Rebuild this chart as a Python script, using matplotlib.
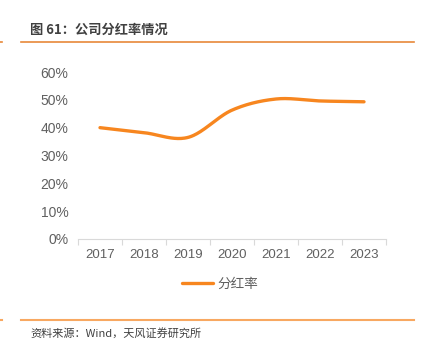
import numpy as np
import matplotlib
matplotlib.use("Agg")
import matplotlib.pyplot as plt
from matplotlib.lines import Line2D

plt.rcParams['font.family'] = ['Liberation Sans', 'Noto Sans CJK SC', 'DejaVu Sans']

years = ["2017", "2018", "2019", "2020", "2021", "2022", "2023"]
payout_ratio = [40.0, 38.2, 36.5, 46.3, 50.3, 49.6, 49.3]
y_ticks = [0, 10, 20, 30, 40, 50, 60]
series_name = "分红率"
title_text = "图 61：公司分红率情况"
source_text = "资料来源：Wind，天风证券研究所"

LINE_COLOR = "#F7861F"
TEXT_COLOR = "#606060"


def catmull_rom(xs, ys, n=40):
    """Smooth curve through the points (Excel-style smoothed line)."""
    xs = np.asarray(xs, float)
    ys = np.asarray(ys, float)
    px = np.concatenate([[2 * xs[0] - xs[1]], xs, [2 * xs[-1] - xs[-2]]])
    py = np.concatenate([[2 * ys[0] - ys[1]], ys, [2 * ys[-1] - ys[-2]]])
    out_x, out_y = [], []
    t = np.linspace(0, 1, n)
    for i in range(1, len(px) - 2):
        for p, out in ((px, out_x), (py, out_y)):
            p0, p1, p2, p3 = p[i - 1], p[i], p[i + 1], p[i + 2]
            seg = 0.5 * ((2 * p1) + (-p0 + p2) * t
                         + (2 * p0 - 5 * p1 + 4 * p2 - p3) * t ** 2
                         + (-p0 + 3 * p1 - 3 * p2 + p3) * t ** 3)
            out.extend(seg)
    return np.array(out_x), np.array(out_y)


fig = plt.figure(figsize=(4.22, 3.48), dpi=100)
W, H = 422, 348

# header and footer
fig.text(30 / W, 1 - 30 / H, title_text, fontsize=9.5, fontweight="bold",
         color="#404040", va="center", ha="left",
         family=['Noto Sans CJK SC', 'DejaVu Sans'])
fig.add_artist(Line2D([21 / W, 414 / W], [1 - 41.5 / H] * 2, color="#E8893A", lw=1.2))
fig.add_artist(Line2D([0, 2 / W], [1 - 41.5 / H] * 2, color="#E8893A", lw=1.2))
fig.add_artist(Line2D([21 / W, 414 / W], [1 - 319.5 / H] * 2, color="#F8A861", lw=1.5))
fig.add_artist(Line2D([0, 2 / W], [1 - 319.5 / H] * 2, color="#F8A861", lw=1.5))
fig.text(30 / W, 1 - 333 / H, source_text, fontsize=8, color="#404040",
         va="center", ha="left", family=['Noto Sans CJK SC', 'DejaVu Sans'])

# plot area
left, right, bottom, top = 78 / W, 386 / W, 1 - 239 / H, 1 - 72 / H
ax = fig.add_axes([left, bottom, right - left, top - bottom])
x = np.arange(len(years))
sx, sy = catmull_rom(x, payout_ratio)
ax.plot(sx, sy, color=LINE_COLOR, lw=2.4, solid_capstyle="round")

ax.set_xlim(-0.5, len(years) - 0.5)
ax.set_ylim(0, 60)
ax.set_yticks(y_ticks)
ax.set_yticklabels([f"{v}%" for v in y_ticks])
ax.set_xticks(x)
ax.set_xticklabels(years)
ax.set_xticks(np.arange(len(years) + 1) - 0.5, minor=True)

for s in ("top", "right", "left"):
    ax.spines[s].set_visible(False)
ax.spines["bottom"].set_color("#D9D9D9")
ax.spines["bottom"].set_linewidth(0.8)
ax.tick_params(axis="y", length=0, pad=7, labelsize=10, labelcolor=TEXT_COLOR)
ax.tick_params(axis="x", which="major", length=0, pad=7, labelsize=9.5, labelcolor=TEXT_COLOR)
ax.tick_params(axis="x", which="minor", length=4, color="#D9D9D9", width=0.8)

leg_handle = Line2D([], [], color=LINE_COLOR, lw=2.4, solid_capstyle="round")
fig.legend([leg_handle], [series_name], loc="center", bbox_to_anchor=(220 / W, 1 - 284 / H),
           frameon=False, handlelength=2.3, handletextpad=0.3,
           prop={"family": ['Noto Sans CJK SC', 'DejaVu Sans'], "size": 9.8},
           labelcolor=TEXT_COLOR)

fig.savefig("out.png", dpi=100)
